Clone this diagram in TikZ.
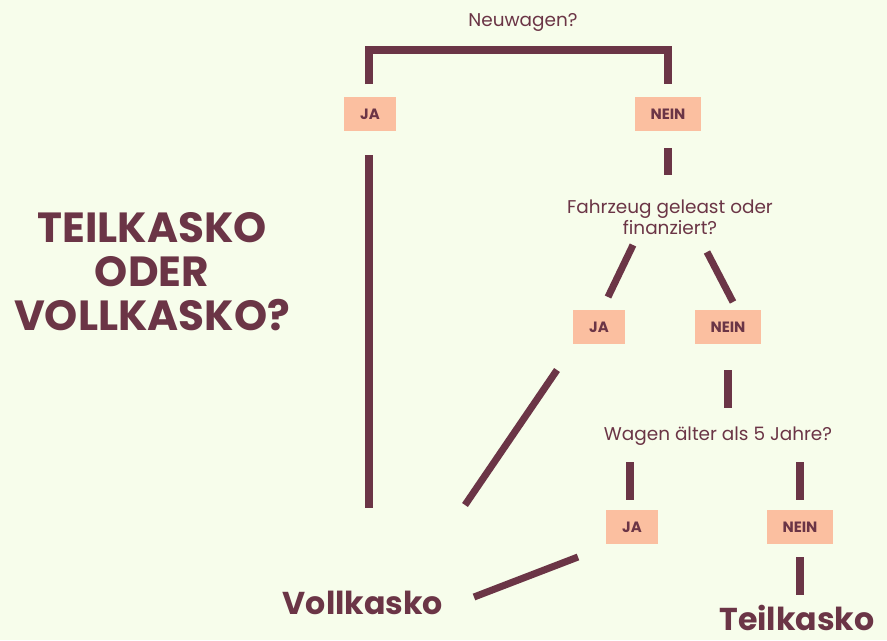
\documentclass[tikz,border=0pt]{standalone}
\usepackage{fontspec}
\setmainfont{Poppins}
\definecolor{wine}{HTML}{6B3546}
\definecolor{peach}{HTML}{FBBFA0}
\definecolor{paper}{HTML}{F7FDEB}
\begin{document}
\begin{tikzpicture}[x=0.02cm,y=-0.02cm,
box/.style={fill=peach,minimum width=2.1em,minimum height=1.9em,inner xsep=0.9em,
font=\fontsize{8.5}{10}\selectfont\bfseries,text=wine},
ask/.style={font=\fontsize{10.5}{12}\selectfont,text=wine,align=center},
result/.style={font=\fontsize{18}{20}\selectfont\bfseries,text=wine},
bar/.style={draw=wine,line width=4pt}
]
\fill[paper] (0,0) rectangle (887,640);
% title
\node (title) [font=\fontsize{24}{25}\selectfont\bfseries,text=wine,align=center] at (152,272)
  {TEILKASKO\\ODER\\VOLLKASKO?};
% first question
\node (q1) [ask] at (523,22) {Neuwagen?};
\node (ja1) [box] at (370,114) {JA};
\node (nein1) [box] at (668,114) {NEIN};
\coordinate (b1) at (369,84);
\coordinate (b2) at (668,84);
\draw[bar] (b1) -- (369,50) -- (668,50) -- (b2);
% second question
\node (q2) [ask] at (670,217) {Fahrzeug geleast oder\\finanziert?};
\node (ja2) [box] at (599,327) {JA};
\node (nein2) [box] at (728,327) {NEIN};
% third question
\node (q3) [ask] at (718,436) {Wagen älter als 5 Jahre?};
\node (ja3) [box] at (632,527) {JA};
\node (nein3) [box] at (800,527) {NEIN};
% results
\node (voll) [result] at (363,603) {Vollkasko};
\node (teil) [result] at (797,618) {Teilkasko};
% connectors
\coordinate (v1) at (369,155); \coordinate (v2) at (369,508);
\coordinate (n1) at (668,148); \coordinate (n2) at (668,175);
\coordinate (d1) at (633,245); \coordinate (d2) at (608,297);
\coordinate (d3) at (707,252); \coordinate (d4) at (733,302);
\coordinate (e1) at (557,370); \coordinate (e2) at (465,505);
\coordinate (f1) at (728,370); \coordinate (f2) at (728,408);
\coordinate (g1) at (630,462); \coordinate (g2) at (630,500);
\coordinate (h1) at (800,462); \coordinate (h2) at (800,500);
\coordinate (k1) at (578,557); \coordinate (k2) at (474,597);
\coordinate (m1) at (800,557); \coordinate (m2) at (800,595);
\foreach \a/\b in {v1/v2,n1/n2,d1/d2,d3/d4,e1/e2,f1/f2,g1/g2,h1/h2,k1/k2,m1/m2}
  \draw[bar] (\a) -- (\b);
\end{tikzpicture}
\end{document}
